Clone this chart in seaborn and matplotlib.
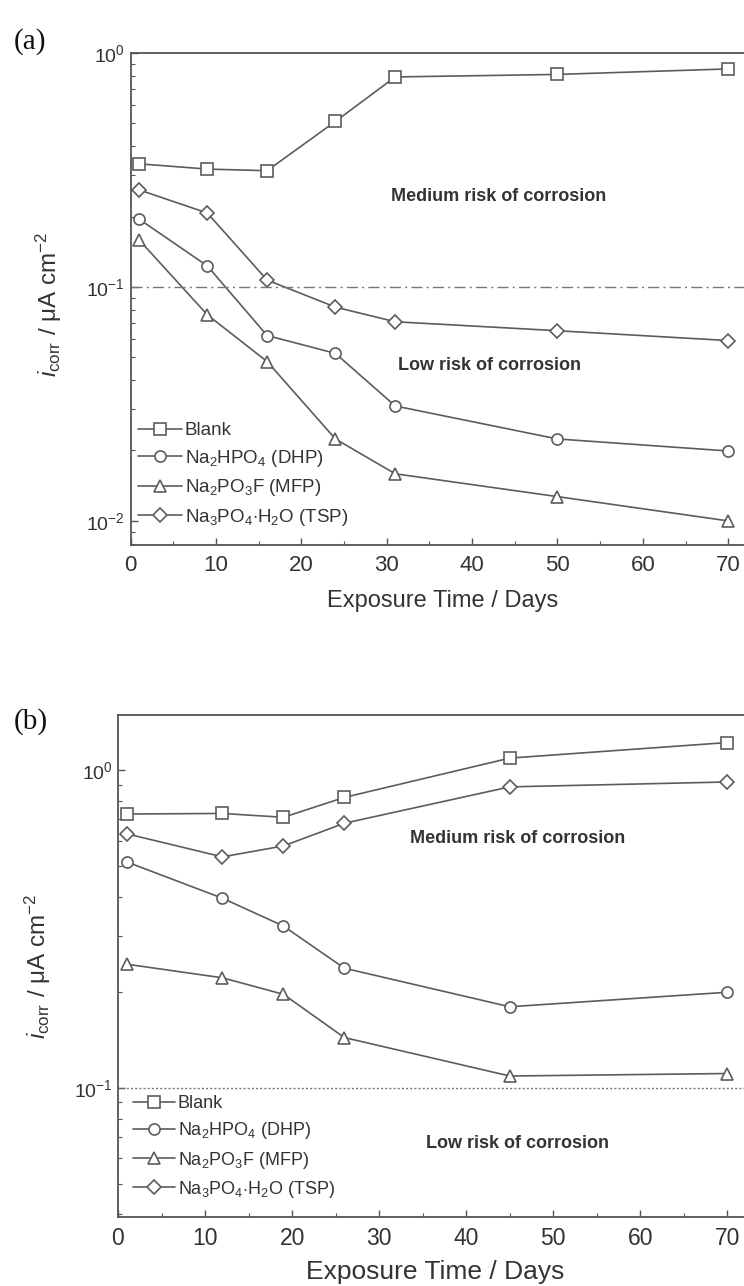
import numpy as np
import pandas as pd
import matplotlib
matplotlib.use("Agg")
import matplotlib.pyplot as plt
import seaborn as sns
from matplotlib.ticker import LogLocator, MultipleLocator, NullFormatter

# ---------------- data ----------------
series_names = ["Blank", "Na$_2$HPO$_4$ (DHP)", "Na$_2$PO$_3$F (MFP)",
                "Na$_3$PO$_4$$\\cdot$H$_2$O (TSP)"]
markers = ["s", "o", "^", "D"]

days_a = [1, 9, 16, 24, 31, 50, 70]
blank_a = [0.336, 0.319, 0.314, 0.51, 0.79, 0.81, 0.855]
dhp_a = [0.195, 0.123, 0.062, 0.052, 0.031, 0.0224, 0.0199]
mfp_a = [0.159, 0.076, 0.048, 0.0224, 0.0159, 0.0127, 0.0100]
tsp_a = [0.26, 0.207, 0.107, 0.082, 0.071, 0.065, 0.059]

days_b = [1, 12, 19, 26, 45, 70]
blank_b = [0.727, 0.73, 0.71, 0.82, 1.09, 1.22]
dhp_b = [0.514, 0.395, 0.323, 0.238, 0.18, 0.20]
mfp_b = [0.245, 0.222, 0.197, 0.144, 0.109, 0.111]
tsp_b = [0.63, 0.533, 0.577, 0.68, 0.885, 0.917]

xticks = [0, 10, 20, 30, 40, 50, 60, 70]
threshold = 0.1

# ---------------- style ----------------
sns.set_style("ticks")
plt.rcParams["font.family"] = ["Liberation Sans", "DejaVu Sans"]
plt.rcParams["mathtext.fontset"] = "custom"
plt.rcParams["mathtext.rm"] = "Liberation Sans"
plt.rcParams["mathtext.it"] = "Liberation Sans:italic"
plt.rcParams["mathtext.bf"] = "Liberation Sans:bold"

TXT = "#333333"
LINE = "#5c5c5c"
SPINE = "#555555"

fig = plt.figure(figsize=(7.44, 12.86), dpi=100)
W, H = 744, 1286
ax_a = fig.add_axes([130.5 / W, 1 - 545 / H, (W - 130.5) / W, (545 - 53) / H])
ax_b = fig.add_axes([118 / W, 1 - 1217 / H, (W - 118) / W, (1217 - 715) / H])


def draw(ax, days, ys, ylim, xmax, line_style, legend_anchor, leg_fs,
         ylab_xy, xlab_xy, xlab_fs, xtick_fs, ylab_fs):
    for name, m, vals in zip(series_names, markers, ys):
        df = pd.DataFrame({"day": days, "icorr": vals})
        sns.lineplot(data=df, x="day", y="icorr", ax=ax, color=LINE,
                     marker=m, markersize=8 if m != "D" else 7,
                     markerfacecolor="white", markeredgecolor=LINE,
                     markeredgewidth=1.2, linewidth=1.2, label=name,
                     legend=False)
    handles = list(ax.get_lines())
    ax.axhline(threshold, color="#777777", linewidth=1.0, linestyle=line_style)
    ax.set_yscale("log")
    ax.set_ylim(*ylim)
    ax.set_xlim(0, xmax)
    ax.set_xticks(xticks)
    ax.xaxis.set_minor_locator(MultipleLocator(5))
    ax.yaxis.set_major_locator(LogLocator(base=10))
    ax.yaxis.set_minor_locator(LogLocator(base=10, subs=np.arange(2, 10)))
    ax.yaxis.set_minor_formatter(NullFormatter())
    ax.tick_params(axis="both", which="major", direction="in", length=5,
                   width=1.0, colors=SPINE, labelcolor=TXT)
    ax.tick_params(axis="x", which="major", labelsize=xtick_fs, pad=7)
    ax.tick_params(axis="y", which="major", labelsize=14, pad=4)
    ax.tick_params(axis="both", which="minor", direction="in", length=3,
                   width=0.8, colors=SPINE)
    for s in ["left", "bottom", "top"]:
        ax.spines[s].set_color(SPINE)
        ax.spines[s].set_linewidth(1.3)
    ax.spines["right"].set_visible(False)
    ax.set_xlabel("Exposure Time / Days", fontsize=xlab_fs, color=TXT)
    ax.xaxis.set_label_coords(*xlab_xy)
    ax.set_ylabel("$i_{\\mathrm{corr}}$ / μA cm$^{-2}$", fontsize=ylab_fs,
                  color=TXT)
    ax.yaxis.set_label_coords(*ylab_xy)
    ax.legend(handles=handles, labels=series_names, loc="lower left",
              bbox_to_anchor=legend_anchor, frameon=False, fontsize=leg_fs,
              handlelength=2.35, handletextpad=0.15, labelspacing=0.45,
              borderaxespad=0.0, labelcolor=TXT)


draw(ax_a, days_a, [blank_a, dhp_a, mfp_a, tsp_a], (10 ** -2.103, 1.0), 71.85,
     (0, (8, 3, 1.5, 3)), (0.0, 0.02), 13.5,
     (-0.108, 0.49), (0.509, -0.0915), 17, 16, 17.5)
draw(ax_b, days_b, [blank_b, dhp_b, mfp_b, tsp_b], (10 ** -1.406, 10 ** 0.173),
     71.9, (0, (1.5, 1.5)), (0.012, 0.02), 13,
     (-0.104, 0.5), (0.507, -0.0857), 19, 16.5, 17.5)

ax_a.text(43.1, 0.243, "Medium risk of corrosion", ha="center", va="center",
          fontsize=13, fontweight="bold", color=TXT)
ax_a.text(42.1, 0.046, "Low risk of corrosion", ha="center", va="center",
          fontsize=13, fontweight="bold", color=TXT)
ax_b.text(45.9, 0.611, "Medium risk of corrosion", ha="center", va="center",
          fontsize=13, fontweight="bold", color=TXT)
ax_b.text(45.9, 0.0671, "Low risk of corrosion", ha="center", va="center",
          fontsize=13, fontweight="bold", color=TXT)

fig.text(14 / W, 1 - 42 / H, "(a)", family="Liberation Serif", fontsize=21,
         ha="left", va="center", color="#111111")
fig.text(14 / W, 1 - 722 / H, "(b)", family="Liberation Serif", fontsize=21,
         ha="left", va="center", color="#111111")

fig.savefig("out.png", dpi=100)
